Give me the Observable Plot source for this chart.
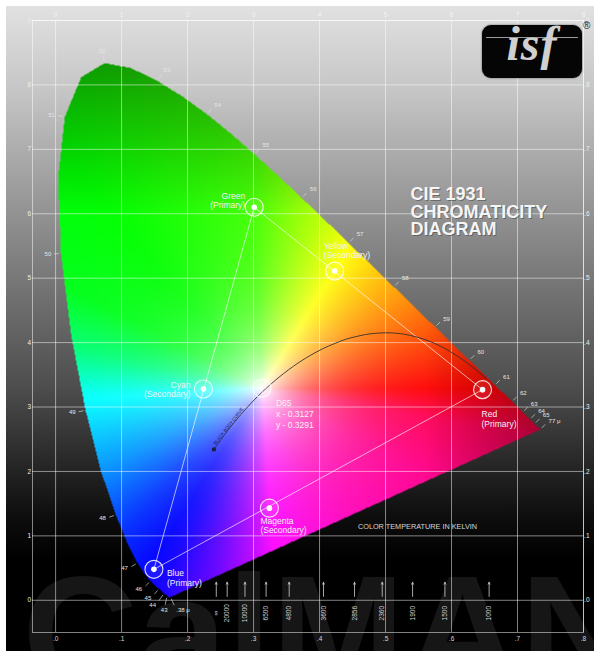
<!DOCTYPE html>
<html><head><meta charset="utf-8">
<script src="https://cdn.jsdelivr.net/npm/d3@7"></script>
<script src="https://cdn.jsdelivr.net/npm/@observablehq/plot@0.6"></script>
<style>
html,body{margin:0;padding:0;background:#fff;}
#wrap{position:relative;width:600px;height:657px;overflow:hidden;}
#wrap svg{display:block;}
#border{position:absolute;left:0;top:0;width:600px;height:657px;box-sizing:border-box;border:6px solid #fff;pointer-events:none;}
#logo{position:absolute;left:482px;top:25px;width:100px;height:53px;background:#050505;border-radius:9px;box-shadow:0 0 2px #555;}
#logo .bar{position:absolute;left:4px;right:4px;top:12px;height:1px;background:#9a9a9a;}
#logo .txt{position:absolute;left:0;width:100px;top:-5px;text-align:center;font:italic bold 48px/1 "Liberation Serif","DejaVu Serif",serif;color:#d0d0d0;letter-spacing:1px;}
#reg{position:absolute;left:583px;top:20px;font:10px "Liberation Sans",sans-serif;color:#222;}
</style></head>
<body><div id="wrap"></div>
<script>
// ---- DATA ----
// CIE 1931 spectral locus (nm, x, y)
const locusNm = [380,385,390,395,400,405,410,415,420,425,430,435,440,445,450,455,460,465,470,475,480,485,490,495,500,505,510,515,520,525,530,535,540,545,550,555,560,565,570,575,580,585,590,595,600,605,610,615,620,625,630,635,640,645,650,655,660,665,670,675,680,685,690,695,700,780];
const locusX = [.1741,.1740,.1738,.1736,.1733,.1730,.1726,.1721,.1714,.1703,.1689,.1669,.1644,.1611,.1566,.1510,.1440,.1355,.1241,.1096,.0913,.0687,.0454,.0235,.0082,.0039,.0139,.0389,.0743,.1142,.1547,.1929,.2296,.2658,.3016,.3373,.3731,.4087,.4441,.4788,.5125,.5448,.5752,.6029,.6270,.6482,.6658,.6801,.6915,.7006,.7079,.7140,.7190,.7230,.7260,.7283,.7300,.7311,.7320,.7327,.7334,.7340,.7344,.7346,.7347,.7347];
const locusY = [.0050,.0050,.0049,.0049,.0048,.0048,.0048,.0048,.0051,.0058,.0069,.0086,.0109,.0138,.0177,.0227,.0297,.0399,.0578,.0868,.1327,.2007,.2950,.4127,.5384,.6548,.7502,.8120,.8338,.8262,.8059,.7816,.7543,.7243,.6923,.6589,.6245,.5896,.5547,.5202,.4866,.4544,.4242,.3965,.3725,.3514,.3340,.3197,.3083,.2993,.2920,.2859,.2809,.2770,.2740,.2717,.2700,.2689,.2680,.2673,.2666,.2660,.2656,.2654,.2653,.2653];

// wavelength labels
const wlNm   = [380,430,440,450,460,470,480,490,500,510,520,530,540,550,560,570,580,590,600,610,620,630,640,650,780];
const wlText = [".38 μ","43","44","45","46","47","48","49","50","51","52","53","54","55","56","57","58","59","60","61","62","63","64","65","77 μ"];

// Planckian (black body) locus
const planckT = ["∞","20000","15000","10000","8000","7000","6500","6000","5500","5000","4500","4000","3500","3000","2856","2500","2200","2000","1800","1600","1500","1400","1200","1000"];
const planckX = [0.2399,0.2565,0.2637,0.2807,0.2952,0.3064,0.3135,0.3221,0.3325,0.3451,0.3608,0.3805,0.4053,0.4369,0.4476,0.4770,0.5056,0.5267,0.5492,0.5732,0.5857,0.5985,0.6251,0.6528];
const planckY = [0.2342,0.2577,0.2674,0.2883,0.3048,0.3166,0.3237,0.3318,0.3411,0.3516,0.3636,0.3768,0.3907,0.4041,0.4074,0.4137,0.4152,0.4133,0.4081,0.3993,0.3931,0.3858,0.3674,0.3444];

// colour temperature markers along the x axis
const ctLabels = ["∞","20000","10000","6500","4800","3600","2856","2360","1900","1500","1000"];
const ctX = [0.2435,0.260,0.287,0.319,0.354,0.406,0.453,0.495,0.541,0.590,0.657];

// primaries / secondaries / white point
const ptName  = ["Green","Yellow","Red","Magenta","Blue","Cyan","D65"];
const ptLabel = ["Green\n(Primary)","Yellow\n(Secondary)","Red\n(Primary)","Magenta\n(Secondary)","Blue\n(Primary)","Cyan\n(Secondary)","D65\nx - 0.3127\ny - 0.3291"];
const ptX = [0.301,0.423,0.647,0.324,0.149,0.224,0.3127];
const ptY = [0.610,0.511,0.327,0.143,0.048,0.328,0.3291];

// axis ticks
const xTicks = [0,0.1,0.2,0.3,0.4,0.5,0.6,0.7,0.8];
const yTicks = [0,0.1,0.2,0.3,0.4,0.5,0.6,0.7,0.8,0.9];

// ---- LAYOUT ----
const W = 600, H = 657, mL = 32, mR = 17, mT = 20, mB = 25;
const xDom = [-0.035, 0.8], yDom = [-0.05, 0.9];
const kx = (W - mL - mR) / (xDom[1] - xDom[0]);
const ky = (H - mT - mB) / (yDom[1] - yDom[0]);
const FONT = "Liberation Sans, Arial, sans-serif";

const locus = locusNm.map((nm, i) => ({nm, x: locusX[i], y: locusY[i]}));
const locusClosed = locus.concat([locus[0]]);
const poly = locus.map(d => [d.x, d.y]);
const planck = planckT.map((t, i) => ({t, x: planckX[i], y: planckY[i]}));
const pts = ptName.map((n, i) => ({n, label: ptLabel[i], x: ptX[i], y: ptY[i]}));
const P = d => pts.find(p => p.n === d);
const triangle = [P("Green"), P("Red"), P("Blue"), P("Green")];
const ct = ctLabels.map((t, i) => ({t, x: ctX[i]}));

// wavelength tick/label geometry (outward normals in pixel space)
const dirOverride = {380: [0.45, 1], 430: [-0.2, 1], 440: [-0.6, 0.85]};
const wl = wlNm.map((nm, k) => {
  const i = locusNm.indexOf(nm);
  const S = j => [locusX[j] * kx, -locusY[j] * ky];
  const p = S(i), dd = (a, b) => Math.hypot(a[0] - b[0], a[1] - b[1]);
  let a = i, b = i;
  while (a > 0 && dd(S(a), p) < 2) a--;
  while (b < locusNm.length - 1 && dd(S(b), p) < 2) b++;
  let pa = S(a), pb = S(b);
  if (dd(pb, p) < 2) pb = p;
  if (dd(pa, p) < 2) pa = p;
  let tx = pb[0] - pa[0], ty = pb[1] - pa[1];
  let nx = ty, ny = -tx;
  if (dirOverride[nm]) [nx, ny] = dirOverride[nm];
  const L = Math.hypot(nx, ny) || 1; nx /= L; ny /= L;
  const t0 = 2, t1 = (nm <= 440) ? 9 : 7, t2 = t1 + 2.5 + Math.abs(ny) * 3;
  return {
    text: wlText[k],
    x0: locusX[i] + nx * t0 / kx, y0: locusY[i] - ny * t0 / ky,
    x1: locusX[i] + nx * t1 / kx, y1: locusY[i] - ny * t1 / ky,
    lx: locusX[i] + nx * t2 / kx, ly: locusY[i] - ny * t2 / ky,
    anchor: nx > 0.35 ? "start" : nx < -0.35 ? "end" : "middle"
  };
});

// ---- COLOUR FILL (hue by angle around D65) ----
const hueAnchors = [[0,0],[59,60],[93,105],[130,120],[152,126],[168,148],[182,178],[207,205],[227,230],[244,245],[255,262],[266,282],[274,300],[300,315],[330,326],[350,340],[360,360]];
function hueAt(a) {
  for (let i = 1; i < hueAnchors.length; i++) {
    const [a0, h0] = hueAnchors[i - 1], [a1, h1] = hueAnchors[i];
    if (a <= a1) return h0 + (h1 - h0) * (a - a0) / (a1 - a0);
  }
  return 0;
}
function hsv(h, s, v) {
  h = ((h % 360) + 360) % 360 / 60;
  const i = Math.floor(h), f = h - i;
  const p = v * (1 - s), q = v * (1 - s * f), t = v * (1 - s * (1 - f));
  const c = [[v,t,p],[q,v,p],[p,v,t],[p,q,v],[t,p,v],[v,p,q]][i % 6];
  return `rgb(${Math.round(c[0]*255)},${Math.round(c[1]*255)},${Math.round(c[2]*255)})`;
}
function chroma(x, y) {
  if (!d3.polygonContains(poly, [x, y])) return null;
  const dx = x - 0.3127, dy = y - 0.3291;
  let ang = Math.atan2(dy, dx) * 180 / Math.PI; if (ang < 0) ang += 360;
  const d = Math.hypot(dx, dy);
  const s = 1 - Math.exp(-d / 0.085);
  let v = 1;
  if (y > 0.6) v -= 0.4 * Math.min(1, (y - 0.6) / 0.24);
  if (x > 0.56) v -= 0.32 * Math.min(1, (x - 0.56) / 0.17);
  return hsv(hueAt(ang), s, v);
}

const lab = (name, o) => Plot.text(pts.filter(p => p.n === name), {x: "x", y: "y", text: "label", fill: "#f2f2f2", fontSize: 8.5, lineHeight: 1.1, lineAnchor: "middle", fontFamily: FONT, ...o});

const chart = Plot.plot({
  width: W, height: H,
  marginLeft: mL, marginRight: mR, marginTop: mT, marginBottom: mB,
  x: {domain: xDom, axis: null},
  y: {domain: yDom, axis: null},
  color: {type: "identity"},
  style: {
    background: "linear-gradient(to bottom, #e3e3e3 0px, #c6c6c6 90px, #9c9c9c 190px, #737373 290px, #4c4c4c 390px, #2b2b2b 455px, #0e0e0e 515px, #000 560px)",
    fontFamily: FONT
  },
  marks: [
    // watermark
    Plot.text(["CalMAN"], {frameAnchor: "bottom-left", dx: -10, dy: -59, lineAnchor: "top", textAnchor: "start", fontSize: 160, fontWeight: "bold", fill: "#161616", fontFamily: FONT}),
    // drop shadow of horseshoe
    Plot.line(locusClosed, {x: "x", y: "y", fill: "#000", fillOpacity: 0.75, stroke: "none", dx: -4, dy: 5, ariaLabel: "shadow"}),
    // colour fill
    Plot.raster({fill: chroma, x1: xDom[0], x2: xDom[1], y1: yDom[0], y2: yDom[1], pixelSize: 1}),
    // grid
    Plot.ruleX(xTicks, {x: d => d, y1: yDom[0], y2: yDom[1], stroke: "#fff", strokeOpacity: 0.5, strokeWidth: 1}),
    Plot.ruleY(yTicks, {y: d => d, x1: xDom[0], x2: xDom[1], stroke: "#fff", strokeOpacity: 0.5, strokeWidth: 1}),
    Plot.frame({stroke: "#fff", strokeOpacity: 0.5}),
    // tick labels
    Plot.text(xTicks, {x: d => d, text: d => String(Math.round(d * 10)), frameAnchor: "top", dy: -8, fontSize: 6.5, fill: "#f4f4f4"}),
    Plot.text(xTicks, {x: d => d, text: d => "." + Math.round(d * 10), frameAnchor: "bottom", dy: 8, fontSize: 6.5, fill: "#d8d8d8"}),
    Plot.text(yTicks, {y: d => d, text: d => String(Math.round(d * 10)), frameAnchor: "left", dx: -5, fontSize: 6.5, fill: "#eeeeee"}),
    Plot.text(yTicks, {y: d => d, text: d => "." + Math.round(d * 10), frameAnchor: "right", dx: 6, fontSize: 6.5, fill: "#eeeeee"}),
    // wavelength ticks + labels
    Plot.link(wl, {x1: "x0", y1: "y0", x2: "x1", y2: "y1", stroke: "#e0e0e0", strokeWidth: 0.7, strokeOpacity: 0.9}),
    Plot.text(wl.filter(d => d.anchor === "start"), {x: "lx", y: "ly", text: "text", textAnchor: "start", fontSize: 6, fill: "#e6e6e6"}),
    Plot.text(wl.filter(d => d.anchor === "end"), {x: "lx", y: "ly", text: "text", textAnchor: "end", fontSize: 6, fill: "#e6e6e6"}),
    Plot.text(wl.filter(d => d.anchor === "middle"), {x: "lx", y: "ly", text: "text", textAnchor: "middle", fontSize: 6, fill: "#e6e6e6"}),
    // gamut triangle
    Plot.line(triangle, {x: "x", y: "y", stroke: "#fff", strokeWidth: 0.8, strokeOpacity: 0.8}),
    // black body curve
    Plot.line(planck, {x: "x", y: "y", curve: "catmull-rom", stroke: "#2d2d2d", strokeWidth: 1, strokeOpacity: 0.85}),
    Plot.dot(planck.slice(0, 1), {x: "x", y: "y", r: 2.2, fill: "#1c2040"}),
    Plot.text(planck.filter(d => d.t === "15000"), {x: "x", y: "y", text: () => "BLACK BODY CURVE", rotate: -52, lineAnchor: "bottom", dy: -1, fontSize: 4.5, fill: "#141838"}),
    // points
    Plot.dot(pts, {x: "x", y: "y", r: 9, stroke: "#fff", strokeWidth: 1.1, strokeOpacity: 0.85, fill: "#fff", fillOpacity: 0.08}),
    Plot.dot(pts.filter(p => p.n !== "D65"), {x: "x", y: "y", r: 2.8, fill: "#fff"}),
    Plot.dot(pts.filter(p => p.n === "D65"), {x: "x", y: "y", r: 3, symbol: "plus", fill: "none", stroke: "#fff", strokeOpacity: 0.5, strokeWidth: 0.7}),
    lab("Green", {textAnchor: "end", dx: -9, dy: -6.5}),
    lab("Yellow", {textAnchor: "start", dx: -11, dy: -20.5}),
    lab("Cyan", {textAnchor: "end", dx: -13, dy: 0.5}),
    lab("Red", {textAnchor: "start", dx: -1, dy: 29.5}),
    lab("Blue", {textAnchor: "start", dx: 13, dy: 8.5}),
    lab("Magenta", {textAnchor: "start", dx: -9, dy: 17.5}),
    lab("D65", {textAnchor: "start", dx: 14, dy: 25, lineHeight: 1.3}),
    // colour temperature markers
    Plot.arrow(ct, {x1: "x", x2: "x", y1: () => 0.006, y2: () => 0.028, stroke: "#d0d0d0", strokeWidth: 0.8, headLength: 4, headAngle: 50}),
    Plot.text(ct, {x: "x", y: () => -0.02, text: "t", rotate: -90, fontSize: 6.5, fill: "#d0d0d0"}),
    Plot.text(["COLOR TEMPERATURE IN KELVIN"], {x: () => 0.5485, y: () => 0.1147, text: d => d, fontSize: 7.3, fill: "#d6d6d6"}),
    // title
    Plot.text(["CIE 1931\nCHROMATICITY\nDIAGRAM"], {frameAnchor: "top-left", dx: 379, dy: 168, lineAnchor: "top", textAnchor: "start", fontSize: 18, fontWeight: "bold", lineHeight: 0.98, fill: "#333", fillOpacity: 0.45}),
    Plot.text(["CIE 1931\nCHROMATICITY\nDIAGRAM"], {frameAnchor: "top-left", dx: 378, dy: 167, lineAnchor: "top", textAnchor: "start", fontSize: 18, fontWeight: "bold", lineHeight: 0.98, fill: "#f5f5f5"})
  ]
});

// soft blur on the horseshoe drop shadow
const svg = d3.select(chart);
const f = svg.insert("defs", ":first-child").append("filter").attr("id", "shBlur")
  .attr("x", "-20%").attr("y", "-20%").attr("width", "140%").attr("height", "140%");
f.append("feGaussianBlur").attr("stdDeviation", 6);
svg.selectAll('g[aria-label="shadow"]').attr("filter", "url(#shBlur)");

const wrap = document.getElementById("wrap");
wrap.appendChild(chart);
wrap.insertAdjacentHTML("beforeend", '<div id="logo"><div class="bar"></div><div class="txt">isf</div></div><div id="reg">®</div><div id="border"></div>');
</script>
</body></html>
